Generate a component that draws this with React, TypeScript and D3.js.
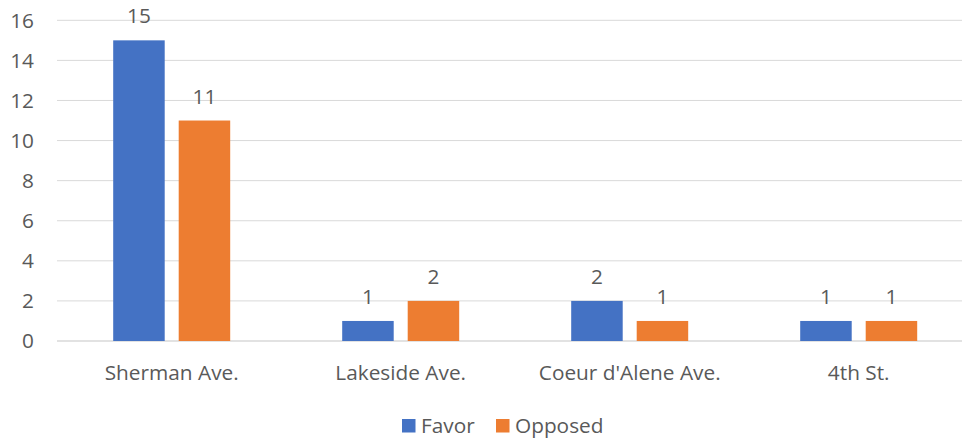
import React from "react";
import * as d3 from "d3";

const categories = ["Sherman Ave.", "Lakeside Ave.", "Coeur d'Alene Ave.", "4th St."];
const seriesNames = ["Favor", "Opposed"];
const favor = [15, 1, 2, 1];
const opposed = [11, 2, 1, 1];
const yTicks = [0, 2, 4, 6, 8, 10, 12, 14, 16];
const colors = ["#4472C4", "#ED7D31"];

const W = 962;
const H = 441;
const FONT = "'Open Sans', sans-serif";
const TEXT = "#595959";
const FS = 20.8;

export default function App() {
  const values = [favor, opposed];
  const x0 = d3.scaleBand<string>().domain(categories).range([57.2, 973.2]).paddingInner(0).paddingOuter(0);
  const x1 = d3.scaleBand<string>().domain(seriesNames).range([56, 173]).paddingInner(0.2137).paddingOuter(0);
  const y = d3.scaleLinear().domain([0, 16]).range([341, 20.3]);

  return (
    <svg width={W} height={H} style={{ position: "absolute", left: 0, top: 0, display: "block" }} fontFamily={FONT}>
      <rect x={0} y={0} width={W} height={H} fill="#fff" />
      {yTicks.map((t) => (
        <g key={t}>
          <line x1={57} x2={W} y1={y(t)} y2={y(t)} stroke="#D9D9D9" strokeWidth={t === 0 ? 1.6 : 1} />
          <text x={34} y={y(t)} dy="0.36em" textAnchor="end" fontSize={FS} fill={TEXT}>{t}</text>
        </g>
      ))}
      {categories.map((c, i) => (
        <g key={c} transform={`translate(${x0(c)},0)`}>
          {seriesNames.map((s, j) => {
            const v = values[j][i];
            const bx = x1(s)!;
            const bw = x1.bandwidth();
            return (
              <g key={s}>
                <rect x={bx} y={y(v)} width={bw} height={y(0) - y(v)} fill={colors[j]} />
                <text x={bx + bw / 2} y={y(v) - 17} textAnchor="middle" fontSize={FS} fill={TEXT}>{v}</text>
              </g>
            );
          })}
          <text x={x0.bandwidth() / 2} y={379.5} textAnchor="middle" fontSize={FS} fill={TEXT}>{c}</text>
        </g>
      ))}
      <g>
        <rect x={402} y={419} width={13.5} height={13.5} fill={colors[0]} />
        <text x={421} y={432.5} fontSize={FS} fill={TEXT}>{seriesNames[0]}</text>
        <rect x={496} y={419} width={13.5} height={13.5} fill={colors[1]} />
        <text x={515} y={432.5} fontSize={FS} fill={TEXT}>{seriesNames[1]}</text>
      </g>
    </svg>
  );
}
